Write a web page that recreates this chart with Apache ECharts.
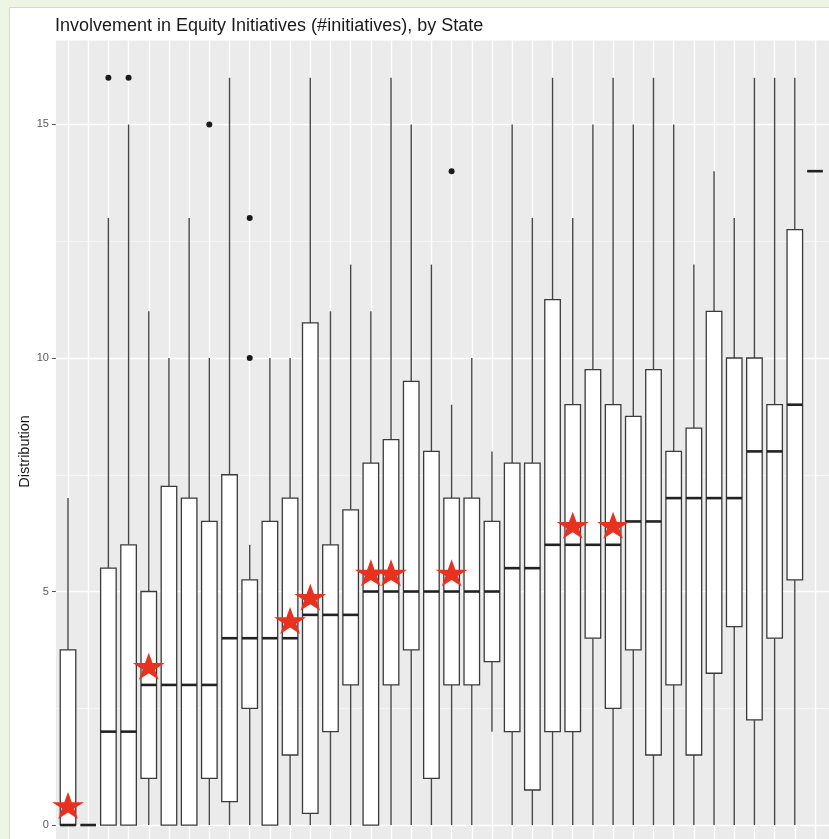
<!DOCTYPE html>
<html>
<head>
<meta charset="utf-8">
<script src="https://cdn.jsdelivr.net/npm/echarts@6/dist/echarts.min.js"></script>
<style>
  html, body { margin: 0; padding: 0; }
  body { width: 829px; height: 839px; background: #EEF5E5; position: relative; overflow: hidden; }
  #frame { position: absolute; left: 9px; top: 7px; width: 830px; height: 840px; background: #ffffff;
           border-left: 1px solid #D2DBC6; border-top: 1px solid #D2DBC6; }
  #chart { position: absolute; left: 0; top: 0; width: 870px; height: 880px; }
</style>
</head>
<body>
<div id="frame"></div>
<div id="chart"></div>
<script>
// ---- Data ----
const states = ['S01','S02','S03','S04','S05','S06','S07','S08','S09','S10',
                'S11','S12','S13','S14','S15','S16','S17','S18','S19','S20',
                'S21','S22','S23','S24','S25','S26','S27','S28','S29','S30',
                'S31','S32','S33','S34','S35','S36','S37','S38'];
const lowerWhisker = [0,0,0,0,0,0,0,0,0,0, 0,0,0,0,0,0,0,0,0,0, 0,2,0,0,0,0,0,0,0,0, 0,0,0,0,0,0,0,14];
const q1Values     = [0,0,0,0,1,0,0,1,0.5,2.5, 0,1.5,0.25,2,3,0,3,3.75,1,3, 3,3.5,2,0.75,2,2,4,2.5,3.75,1.5, 3,1.5,3.25,4.25,2.25,4,5.25,14];
const medianValues = [0,0,2,2,3,3,3,3,4,4, 4,4,4.5,4.5,4.5,5,5,5,5,5, 5,5,5.5,5.5,6,6,6,6,6.5,6.5, 7,7,7,7,8,8,9,14];
const q3Values     = [3.75,0,5.5,6,5,7.25,7,6.5,7.5,5.25, 6.5,7,10.75,6,6.75,7.75,8.25,9.5,8,7, 7,6.5,7.75,7.75,11.25,9,9.75,9,8.75,9.75, 8,8.5,11,10,10,9,12.75,14];
const upperWhisker = [7,0,13,15,11,10,13,10,16,6, 10,10,16,11,12,11,16,15,12,9, 10,8,15,13,16,13,15,16,15,16, 15,12,14,13,16,16,16,14];

const outlierStates = ['S03','S04','S08','S10','S10','S20'];
const outlierValues = [16, 16, 15, 13, 10, 14];

const starStates = ['S01','S05','S12','S13','S16','S17','S20','S26','S28'];
const starValues = [0.42, 3.4, 4.38, 4.88, 5.4, 5.4, 5.4, 6.42, 6.42];

const yTickValues = [0, 5, 10, 15];
const yMinorValues = [2.5, 7.5, 12.5];

const titleText = 'Involvement in Equity Initiatives (#initiatives), by State';
const yAxisTitle = 'Distribution';

// ---- Build series data ----
const boxData = states.map((s, k) => [k, lowerWhisker[k], q1Values[k], medianValues[k], q3Values[k], upperWhisker[k]]);
const outlierData = outlierStates.map((s, k) => [states.indexOf(s), outlierValues[k]]);
const starData = starStates.map((s, k) => [states.indexOf(s), starValues[k]]);
const stateTicks = states.map((s, k) => k);

const FONT = '"Liberation Sans", Arial, Helvetica, sans-serif';
const starPath = 'path://M0,-1 L0.2245,-0.309 L0.951,-0.309 L0.363,0.118 L0.588,0.809 L0,0.382 L-0.588,0.809 L-0.363,0.118 L-0.951,-0.309 L-0.2245,-0.309 Z';

const chart = echarts.init(document.getElementById('chart'), null, { renderer: 'canvas' });

const option = {
  backgroundColor: 'transparent',
  animation: false,
  title: {
    text: titleText,
    left: 50,
    top: 12,
    textStyle: { fontFamily: FONT, fontSize: 18, fontWeight: 'normal', color: '#1a1a1a' }
  },
  grid: {
    left: 55.9, top: 40.4, right: 22.7, bottom: 17.6,
    show: true, backgroundColor: '#EBEBEB', borderWidth: 0
  },
  xAxis: {
    type: 'value',
    min: -0.6, max: 38.6,
    axisLine: { show: false, onZero: false },
    axisLabel: { show: false },
    axisTick: { show: true, customValues: stateTicks, length: 4, lineStyle: { color: '#333' } },
    splitLine: { show: true, lineStyle: { color: '#ffffff', width: 1.4 } }
  },
  yAxis: [
    {
      type: 'value',
      min: -0.8, max: 16.8,
      name: yAxisTitle,
      nameLocation: 'middle',
      nameRotate: 90,
      nameGap: 23,
      nameMoveOverlap: false,
      nameTextStyle: { fontFamily: FONT, fontSize: 14.5, color: '#1a1a1a' },
      axisLine: { show: false, onZero: false },
      axisTick: { show: true, customValues: yTickValues, length: 4, lineStyle: { color: '#555', width: 1 } },
      axisLabel: { customValues: yTickValues, fontFamily: FONT, fontSize: 11, color: '#5a5a5a', margin: 7 },
      splitLine: { show: true, lineStyle: { color: '#ffffff', width: 1.4 } }
    },
    {
      type: 'value',
      min: -0.8, max: 16.8,
      position: 'left',
      axisLine: { show: false, onZero: false },
      axisTick: { show: false, customValues: yMinorValues },
      axisLabel: { show: false, customValues: yMinorValues },
      splitLine: { show: true, lineStyle: { color: '#F7F7F7', width: 0.8 } }
    }
  ],
  series: [
    {
      type: 'custom',
      name: 'box',
      data: boxData,
      encode: { x: 0, y: [1, 2, 3, 4, 5] },
      z: 3,
      renderItem: function (params, api) {
        const i = api.value(0);
        const lo = api.coord([i, api.value(1)]);
        const q1 = api.coord([i, api.value(2)]);
        const md = api.coord([i, api.value(3)]);
        const q3 = api.coord([i, api.value(4)]);
        const hi = api.coord([i, api.value(5)]);
        const hw = api.size([0.77, 0])[0] / 2;
        const wStyle = { stroke: '#474747', lineWidth: 1.4 };
        return {
          type: 'group',
          children: [
            { type: 'line', shape: { x1: lo[0], y1: lo[1], x2: q1[0], y2: q1[1] }, style: wStyle },
            { type: 'line', shape: { x1: q3[0], y1: q3[1], x2: hi[0], y2: hi[1] }, style: wStyle },
            { type: 'rect', shape: { x: q1[0] - hw, y: q3[1], width: 2 * hw, height: q1[1] - q3[1] },
              style: { fill: '#ffffff', stroke: '#3a3a3a', lineWidth: 1.3 } },
            { type: 'line', shape: { x1: md[0] - hw, y1: md[1], x2: md[0] + hw, y2: md[1] },
              style: { stroke: '#222222', lineWidth: 2.6 } }
          ]
        };
      }
    },
    {
      type: 'scatter',
      name: 'outliers',
      data: outlierData,
      symbol: 'circle',
      symbolSize: 6,
      itemStyle: { color: '#1a1a1a', opacity: 1 },
      z: 4
    },
    {
      type: 'scatter',
      name: 'state',
      data: starData,
      symbol: starPath,
      symbolSize: [32, 27],
      itemStyle: { color: '#E8321F', opacity: 1 },
      z: 5
    }
  ]
};
chart.setOption(option);
</script>
</body>
</html>
